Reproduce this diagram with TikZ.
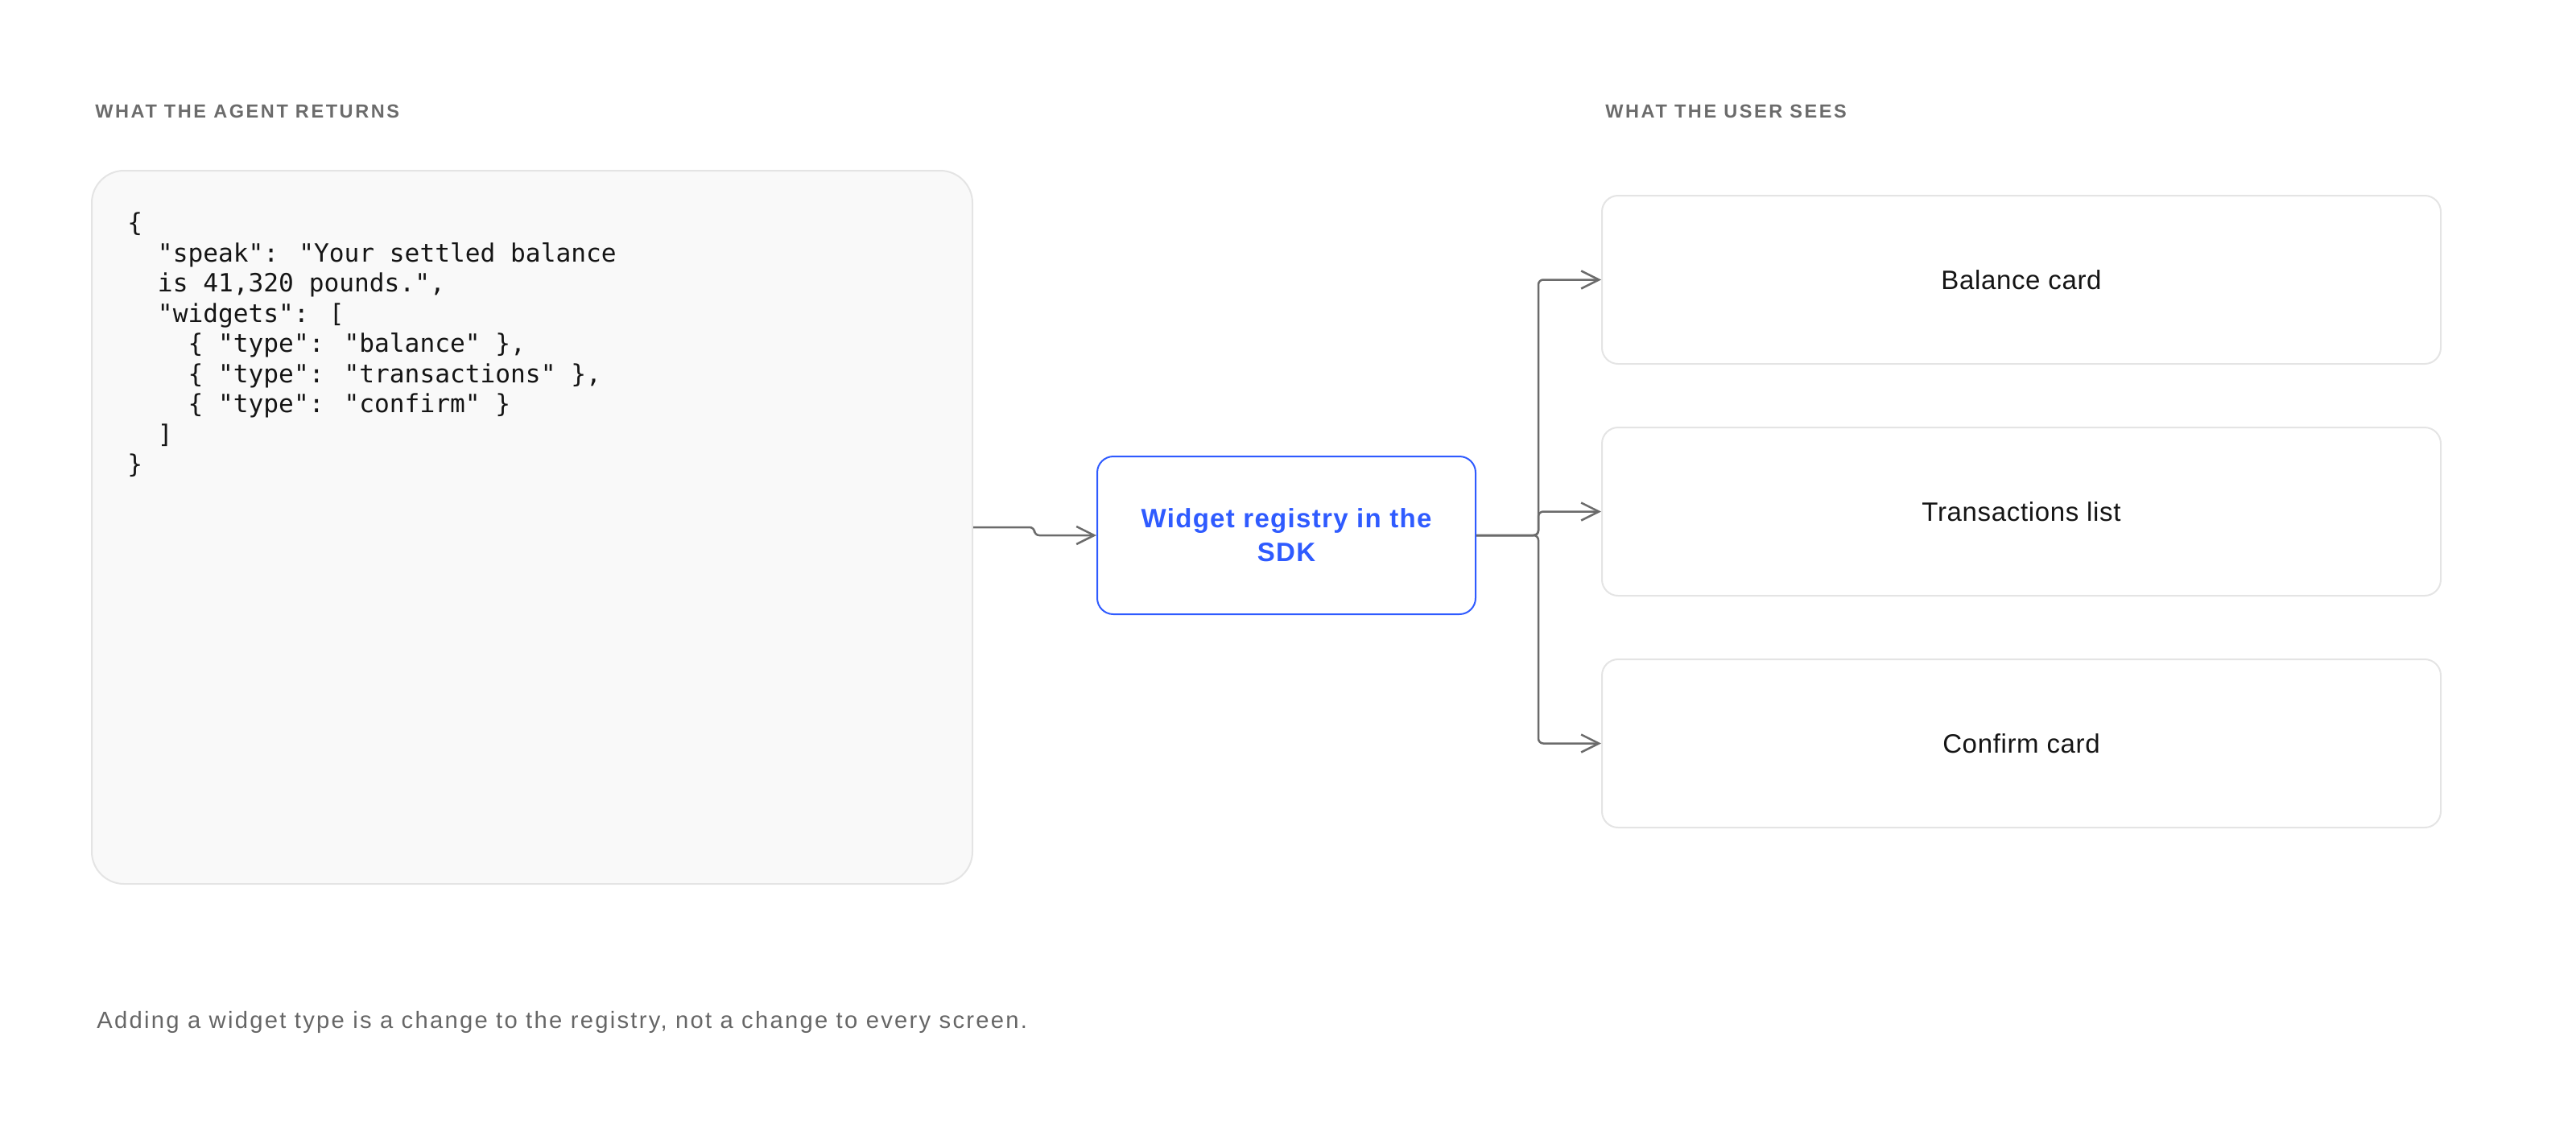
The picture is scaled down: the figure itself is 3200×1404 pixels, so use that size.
\documentclass[tikz,border=0pt]{standalone}
\usepackage{fontspec}
\setmainfont{Liberation Sans}
\newfontfamily\codefont{DejaVu Sans Mono}
\newfontfamily\headfont[LetterSpace=11]{Liberation Sans}
\usetikzlibrary{arrows.meta}
\definecolor{panelfill}{HTML}{F9F9F9}
\definecolor{panelline}{HTML}{E4E4E4}
\definecolor{cardline}{HTML}{E4E4E4}
\definecolor{regblue}{HTML}{2F5BFF}
\definecolor{conncol}{HTML}{6B6B6B}
\definecolor{headgrey}{HTML}{6B6B6B}
\definecolor{footgrey}{HTML}{666666}
\definecolor{inkcol}{HTML}{151515}
\begin{document}
\begin{tikzpicture}[x=0.5pt,y=-0.5pt,
  panel/.style={draw=panelline, line width=1pt, fill=panelfill, rounded corners=20pt,
    minimum width=547pt, minimum height=443pt, inner sep=0pt},
  regbox/.style={draw=regblue, line width=1pt, fill=white, rounded corners=10pt,
    minimum width=235pt, minimum height=98pt, inner sep=0pt, align=center,
    text=regblue, font=\fontsize{16.5}{21}\selectfont\bfseries\addfontfeature{LetterSpace=4}},
  cardbox/.style={draw=cardline, line width=1pt, fill=white, rounded corners=10pt,
    minimum width=521pt, minimum height=104.5pt, inner sep=0pt,
    text=inkcol, font=\fontsize{16.5}{20}\selectfont\addfontfeature{LetterSpace=2}},
  headtxt/.style={anchor=base west, inner sep=0pt, text=headgrey,
    font=\headfont\fontsize{11.75}{14}\selectfont\bfseries},
  codeline/.style={anchor=base west, inner sep=0pt, text=inkcol,
    font=\codefont\fontsize{15.6}{18.75}\selectfont},
  foottxt/.style={anchor=base west, inner sep=0pt, text=footgrey,
    font=\fontsize{14.6}{17}\selectfont\addfontfeature{LetterSpace=7.8}},
  conn/.style={draw=conncol, line width=1.25pt, rounded corners=3pt,
    -{Straight Barb[length=11pt,width=11pt,line width=1.25pt]}}
]
\path[use as bounding box] (0,0) rectangle (3200,1404);

% headings
\node[headtxt] (h1) at (118,146) {WHAT THE AGENT RETURNS};
\node[headtxt] (h2) at (1994,146) {WHAT THE USER SEES};

% left panel with JSON
\node[panel] (agent) at (661,655) {};
\node[codeline] (c1) at (158,287.5) {\{};
\node[codeline] (c2) at (158,325) {\phantom{00}"speak": "Your settled balance};
\node[codeline] (c3) at (158,362.5) {\phantom{00}is 41,320 pounds.",};
\node[codeline] (c4) at (158,400) {\phantom{00}"widgets": [};
\node[codeline] (c5) at (158,437.5) {\phantom{0000}\{ "type": "balance" \},};
\node[codeline] (c6) at (158,475) {\phantom{0000}\{ "type": "transactions" \},};
\node[codeline] (c7) at (158,512.5) {\phantom{0000}\{ "type": "confirm" \}};
\node[codeline] (c8) at (158,550) {\phantom{00}]};
\node[codeline] (c9) at (158,587.5) {\}};

% registry
\node[regbox] (reg) at (1598,665) {Widget registry in the\\SDK};

% cards
\node[cardbox] (card1) at (2511,347.5) {Balance card};
\node[cardbox] (card2) at (2511,635.5) {Transactions list};
\node[cardbox] (card3) at (2511,923.5) {Confirm card};

% connectors
\coordinate (jog) at (1285,655);
\coordinate (fork) at (1911,665);
\draw[conn] (agent.east) -- (jog) -- (jog |- reg.west) -- (reg.west);
\draw[conn] (reg.east) -- (fork) -- (fork |- card1.west) -- (card1.west);
\draw[conn] (reg.east) -- (fork) -- (fork |- card2.west) -- (card2.west);
\draw[conn] (reg.east) -- (fork) -- (fork |- card3.west) -- (card3.west);

% footer
\node[foottxt] (foot) at (120,1277) {Adding a widget type is a change to the registry, not a change to every screen.};
\end{tikzpicture}
\end{document}
